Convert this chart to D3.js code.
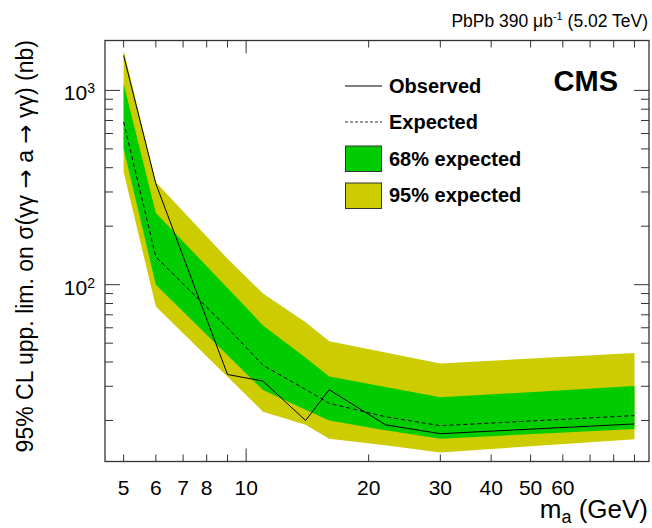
<html>
    <head>
        <script src="https://d3js.org/d3.v7.min.js"></script>
        <style>
            body{ margin:0; background:white; }
            text{ font-family: "Liberation Sans", Arial, Helvetica, sans-serif; }
        </style>
    </head>
    <body>
        <svg id="svg" width="652" height="528"></svg>
        <script>
            // limits vs. ALP mass (GeV), cross sections in nb
            var mass      = [5, 6, 9, 11, 14, 16, 22, 30, 90];
            var observed  = [1514, 331, 34.5, 31.9, 20.0, 28.8, 19.0, 17.1, 19.2];
            var expected  = [687, 139, 60, 38.5, 28.9, 24.5, 20.9, 18.8, 21.2];
            var band68Lo  = [501, 100, 43.3, 28.7, 22.7, 20.0, 17.8, 16.1, 18.1];
            var band68Hi  = [1083, 234, 96, 61.7, 42, 33.7, 29.7, 26.3, 30.1];
            var band95Lo  = [380, 77.3, 33.6, 22.2, 19.0, 16.1, 14.9, 13.7, 16.0];
            var band95Hi  = [1607, 337, 136, 90, 64, 51.2, 44.7, 39.3, 44.5];

            var xTickLabels = [5, 6, 7, 8, 10, 20, 30, 40, 50, 60];
            var yTickLabels = [["10","2",100], ["10","3",1000]];

            var svg = d3.select("svg");
            var fL = 105, fR = 649, fT = 40.5, fB = 461.5;

            var x = d3.scaleLog().domain([4.5, 97.7]).range([fL, fR]);
            var y = d3.scaleLog().domain([12.3, 1806]).range([fB, fT]);

            var pts = mass.map(function(m,i){
                return {m:m, obs:observed[i], exp:expected[i],
                        lo68:band68Lo[i], hi68:band68Hi[i], lo95:band95Lo[i], hi95:band95Hi[i]};
            });

            var area95 = d3.area().x(function(d){return x(d.m);})
                .y0(function(d){return y(d.lo95);}).y1(function(d){return y(d.hi95);});
            var area68 = d3.area().x(function(d){return x(d.m);})
                .y0(function(d){return y(d.lo68);}).y1(function(d){return y(d.hi68);});
            var lineExp = d3.line().x(function(d){return x(d.m);}).y(function(d){return y(d.exp);});
            var lineObs = d3.line().x(function(d){return x(d.m);}).y(function(d){return y(d.obs);});

            svg.append("path").attr("d", area95(pts)).attr("fill","#cccc00");
            svg.append("path").attr("d", area68(pts)).attr("fill","#00cc00");
            svg.append("path").attr("d", lineExp(pts)).attr("fill","none")
                .attr("stroke","black").attr("stroke-width",1).attr("stroke-dasharray","4,3");
            svg.append("path").attr("d", lineObs(pts)).attr("fill","none")
                .attr("stroke","black").attr("stroke-width",1);

            // frame
            svg.append("rect").attr("x",fL).attr("y",fT)
                .attr("width",fR-fL).attr("height",fB-fT)
                .attr("fill","none").attr("stroke","#333").attr("stroke-width",1.3);

            // x ticks (inside, bottom and top)
            var xTicks = x.ticks();
            var gx = svg.append("g");
            xTicks.forEach(function(t){
                if (x(t) <= fL || x(t) >= fR) return;
                var len = (Math.abs(Math.log10(t) - Math.round(Math.log10(t))) < 1e-9) ? 13 : 7;
                gx.append("line").attr("x1",x(t)).attr("x2",x(t))
                    .attr("y1",fB).attr("y2",fB-len).attr("stroke","#333");
                gx.append("line").attr("x1",x(t)).attr("x2",x(t))
                    .attr("y1",fT).attr("y2",fT+len).attr("stroke","#333");
            });
            xTickLabels.forEach(function(t){
                gx.append("text").attr("x",x(t)).attr("y",495)
                    .attr("text-anchor","middle").attr("font-size",21).text(t);
            });

            // y ticks (inside, left and right)
            var yTicks = y.ticks();
            var gy = svg.append("g");
            yTicks.forEach(function(t){
                if (y(t) <= fT || y(t) >= fB) return;
                var len = (Math.abs(Math.log10(t) - Math.round(Math.log10(t))) < 1e-9) ? 15 : 8;
                gy.append("line").attr("x1",fL).attr("x2",fL+len)
                    .attr("y1",y(t)).attr("y2",y(t)).attr("stroke","#333");
                gy.append("line").attr("x1",fR).attr("x2",fR-len)
                    .attr("y1",y(t)).attr("y2",y(t)).attr("stroke","#333");
            });
            yTickLabels.forEach(function(l){
                var t = gy.append("text").attr("x",95).attr("y",y(l[2])+10)
                    .attr("text-anchor","end").attr("font-size",21);
                t.append("tspan").text(l[0]);
                t.append("tspan").attr("font-size",14).attr("dy",-7).text(l[1]);
            });

            // axis titles
            var xt = svg.append("text").attr("x",648).attr("y",518)
                .attr("text-anchor","end").attr("font-size",26);
            xt.append("tspan").text("m");
            xt.append("tspan").attr("font-size",18).attr("dy",5).text("a");
            xt.append("tspan").attr("dy",-5).text(" (GeV)");

            var yl = svg.append("text").attr("transform","translate(33,40) rotate(-90)")
                .attr("text-anchor","end").attr("font-size",23);
            yl.append("tspan").text("95% CL upp. lim. on \u03c3(\u03b3\u03b3 ");
            yl.append("tspan").attr("font-family","DejaVu Sans").text("\u2192");
            yl.append("tspan").text(" a ");
            yl.append("tspan").attr("font-family","DejaVu Sans").text("\u2192");
            yl.append("tspan").text(" \u03b3\u03b3) (nb)");

            // header
            var hd = svg.append("text").attr("x",648).attr("y",27)
                .attr("text-anchor","end").attr("font-size",17.5);
            hd.append("tspan").text("PbPb 390 \u03bcb");
            hd.append("tspan").attr("font-size",11).attr("dy",-7).text("-1");
            hd.append("tspan").attr("dy",7).text(" (5.02 TeV)");

            svg.append("text").attr("x",618).attr("y",91).attr("text-anchor","end")
                .attr("font-size",29).attr("font-weight","bold").text("CMS");

            // legend
            var lg = svg.append("g").attr("font-weight","bold").attr("font-size",20);
            lg.append("line").attr("x1",345).attr("x2",382).attr("y1",86).attr("y2",86)
                .attr("stroke","black");
            lg.append("text").attr("x",389).attr("y",93).text("Observed");
            lg.append("line").attr("x1",345).attr("x2",382).attr("y1",122).attr("y2",122)
                .attr("stroke","black").attr("stroke-dasharray","3,2").attr("stroke-width",0.8);
            lg.append("text").attr("x",389).attr("y",129).text("Expected");
            lg.append("rect").attr("x",345.5).attr("y",146).attr("width",36).attr("height",25.5)
                .attr("fill","#00cc00").attr("stroke","#333");
            lg.append("text").attr("x",389).attr("y",166).text("68% expected");
            lg.append("rect").attr("x",345.5).attr("y",183).attr("width",36).attr("height",25.5)
                .attr("fill","#cccc00").attr("stroke","#333");
            lg.append("text").attr("x",389).attr("y",202).text("95% expected");
        </script>
    </body>
</html>
